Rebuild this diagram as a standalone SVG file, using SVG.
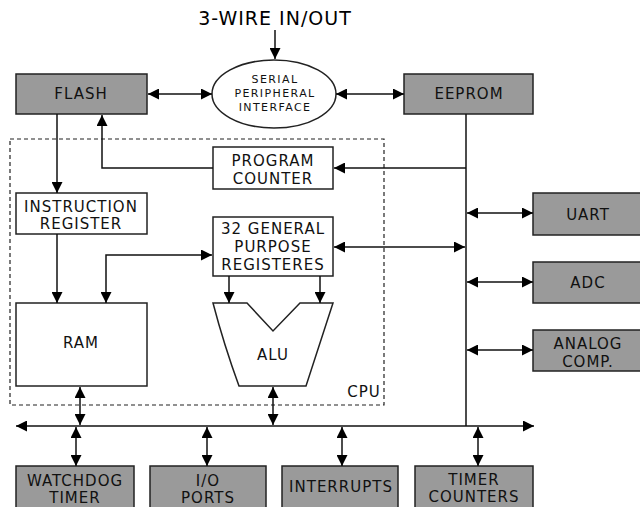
<svg xmlns="http://www.w3.org/2000/svg" width="640" height="507" viewBox="0 0 640 507">
<defs>
<marker id="ah" viewBox="0 0 10 10" refX="10" refY="5" markerWidth="11" markerHeight="11" markerUnits="userSpaceOnUse" orient="auto-start-reverse">
<path d="M0,0 L10,5 L0,10 z" fill="#000"/>
</marker>
<style>
.box{fill:#9a9a9a;stroke:#222;stroke-width:1.5}
.wbox{fill:#fff;stroke:#222;stroke-width:1.5}
.t{font-family:"DejaVu Sans",Verdana,sans-serif;font-size:15px;letter-spacing:1px;fill:#111;text-anchor:middle}
.s{font-family:"DejaVu Sans",Verdana,sans-serif;font-size:11px;letter-spacing:1.4px;fill:#111;text-anchor:middle}
.ln{fill:none;stroke:#111;stroke-width:1.5}
.a1{marker-end:url(#ah)}
.a2{marker-start:url(#ah);marker-end:url(#ah)}
</style>
</defs>
<rect width="640" height="507" fill="#fff"/>

<g id="cpu">
<rect x="10" y="139" width="374" height="266" fill="none" stroke="#222" stroke-width="1.2" stroke-dasharray="4,3"/>
<text class="t" x="364" y="397">CPU</text>
</g>

<g id="title"><text x="275" y="25" font-family="DejaVu Sans,Verdana,sans-serif" font-size="19" letter-spacing="1" text-anchor="middle" fill="#000">3-WIRE IN/OUT</text></g>

<g id="spi">
<ellipse cx="274" cy="94" rx="62" ry="34" fill="#fff" stroke="#222" stroke-width="1.5"/>
<text class="s" x="275" y="83">SERIAL</text>
<text class="s" x="275" y="97">PERIPHERAL</text>
<text class="s" x="275" y="111">INTERFACE</text>
</g>

<g id="flash"><rect class="box" x="16" y="74" width="131" height="40"/><text class="t" x="81" y="99">FLASH</text></g>
<g id="eeprom"><rect class="box" x="404" y="74" width="129" height="40"/><text class="t" x="469" y="99">EEPROM</text></g>

<g id="pc"><rect class="wbox" x="213" y="147" width="120" height="42"/><text class="t" x="273" y="166">PROGRAM</text><text class="t" x="273" y="184">COUNTER</text></g>
<g id="ir"><rect class="wbox" x="16" y="193" width="131" height="41"/><text class="t" x="81" y="212">INSTRUCTION</text><text class="t" x="81" y="229">REGISTER</text></g>
<g id="gpr"><rect class="wbox" x="213" y="217" width="120" height="59"/><text class="t" x="273" y="234">32 GENERAL</text><text class="t" x="273" y="252">PURPOSE</text><text class="t" x="273" y="270">REGISTERES</text></g>
<g id="ram"><rect class="wbox" x="16" y="303" width="131" height="83"/><text class="t" x="81" y="348">RAM</text></g>
<g id="alu"><path d="M213,303 L247,303 L273,331 L300,303 L333,303 L306,386 L239,386 Q224,345 213,303 z" fill="#fff" stroke="#222" stroke-width="1.5"/><text class="t" x="273" y="360">ALU</text></g>

<g id="uart"><rect class="box" x="533" y="193" width="115" height="42"/><text class="t" x="588" y="220">UART</text></g>
<g id="adc"><rect class="box" x="533" y="262" width="115" height="41"/><text class="t" x="588" y="288">ADC</text></g>
<g id="analog"><rect class="box" x="533" y="330" width="115" height="41"/><text class="t" x="588" y="349">ANALOG</text><text class="t" x="588" y="367">COMP.</text></g>

<g id="watchdog"><rect class="box" x="16" y="466" width="118" height="50"/><text class="t" x="75" y="486">WATCHDOG</text><text class="t" x="75" y="503">TIMER</text></g>
<g id="io"><rect class="box" x="150" y="466" width="116" height="50"/><text class="t" x="208" y="486">I/O</text><text class="t" x="208" y="503">PORTS</text></g>
<g id="interrupts"><rect class="box" x="282" y="466" width="116" height="50"/><text class="t" x="341" y="492">INTERRUPTS</text></g>
<g id="timer"><rect class="box" x="415" y="466" width="118" height="50"/><text class="t" x="474" y="485">TIMER</text><text class="t" x="474" y="502">COUNTERS</text></g>

<g id="connectors">
<line class="ln a1" x1="275" y1="30" x2="275" y2="59"/>
<line class="ln a2" x1="148" y1="94" x2="212" y2="94"/>
<line class="ln a2" x1="336" y1="94" x2="404" y2="94"/>
<line class="ln a1" x1="57" y1="114" x2="57" y2="193"/>
<path class="ln a1" d="M213,168 H102 V115"/>
<line class="ln a1" x1="466" y1="168" x2="334" y2="168"/>
<line class="ln a1" x1="57" y1="234" x2="57" y2="303"/>
<path class="ln a2" d="M106,303 V255 H212"/>
<line class="ln a2" x1="334" y1="247" x2="465" y2="247"/>
<line class="ln a1" x1="229" y1="276" x2="229" y2="303"/>
<line class="ln a1" x1="320" y1="276" x2="320" y2="303"/>
<line class="ln a2" x1="80" y1="387" x2="80" y2="425"/>
<line class="ln a2" x1="273" y1="387" x2="273" y2="425"/>
<line class="ln a2" x1="16" y1="426" x2="534" y2="426"/>
<line class="ln" x1="466" y1="114" x2="466" y2="426"/>
<line class="ln a2" x1="467" y1="213" x2="533" y2="213"/>
<line class="ln a2" x1="467" y1="282" x2="533" y2="282"/>
<line class="ln a2" x1="467" y1="350" x2="533" y2="350"/>
<line class="ln a2" x1="76" y1="427" x2="76" y2="466"/>
<line class="ln a2" x1="207" y1="427" x2="207" y2="466"/>
<line class="ln a2" x1="342" y1="427" x2="342" y2="466"/>
<line class="ln a2" x1="478" y1="427" x2="478" y2="466"/>
</g>
</svg>
